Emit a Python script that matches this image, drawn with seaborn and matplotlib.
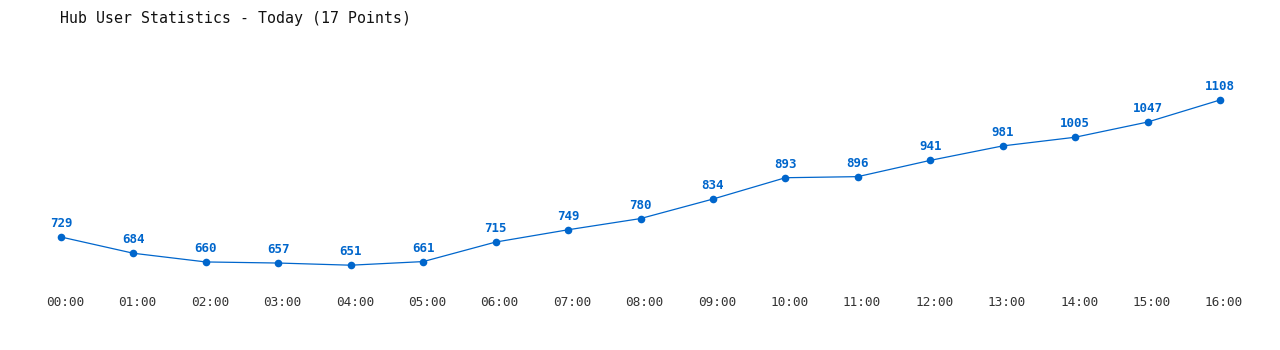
import matplotlib
matplotlib.use("Agg")
import matplotlib.pyplot as plt
import matplotlib.transforms as mtransforms
import seaborn as sns
import pandas as pd

hours = ["00:00", "01:00", "02:00", "03:00", "04:00", "05:00", "06:00", "07:00", "08:00",
         "09:00", "10:00", "11:00", "12:00", "13:00", "14:00", "15:00", "16:00"]
users = [729, 684, 660, 657, 651, 661, 715, 749, 780, 834, 893, 896, 941, 981, 1005, 1047, 1108]
title = "Hub User Statistics - Today (17 Points)"

sns.set_theme(style="white")
plt.rcParams["font.family"] = ["DejaVu Sans Mono", "DejaVu Sans"]

df = pd.DataFrame({"idx": range(len(hours)), "hour": hours, "users": users})

W, H = 1280, 350
fig = plt.figure(figsize=(W / 100, H / 100), dpi=100)
ax = fig.add_axes([61 / W, (H - 290) / H, (1220 - 61) / W, 250 / H])

color = "#0066cc"
sns.lineplot(data=df, x="idx", y="users", ax=ax, color=color, linewidth=0.9,
             marker="o", markersize=5.5, markeredgewidth=0, clip_on=False)
for line in ax.lines:
    line.set_clip_on(False)

for i, v in zip(df["idx"], df["users"]):
    ax.annotate(str(v), (i, v), xytext=(0, 5), textcoords="offset points",
                ha="center", va="bottom", fontsize=9.0, fontweight="bold", color=color)

ax.set_xlim(0, 16)
ax.set_ylim(582.4, 1274)
ax.set_xticks(list(df["idx"]))
ax.set_xticklabels(hours, fontsize=9.2, color="#333333")
ax.tick_params(axis="x", length=0, pad=4.5)
shift = mtransforms.ScaledTranslation(4 / 100, 0, fig.dpi_scale_trans)
for lbl in ax.get_xticklabels():
    lbl.set_transform(lbl.get_transform() + shift)
ax.set_yticks([])
ax.set_xlabel("")
ax.set_ylabel("")
for s in ax.spines.values():
    s.set_visible(False)

fig.text(60 / W, 1 - 18 / H, title, ha="left", va="center", fontsize=10.7, color="#111111")

fig.savefig("out.png", dpi=100, facecolor="white")
